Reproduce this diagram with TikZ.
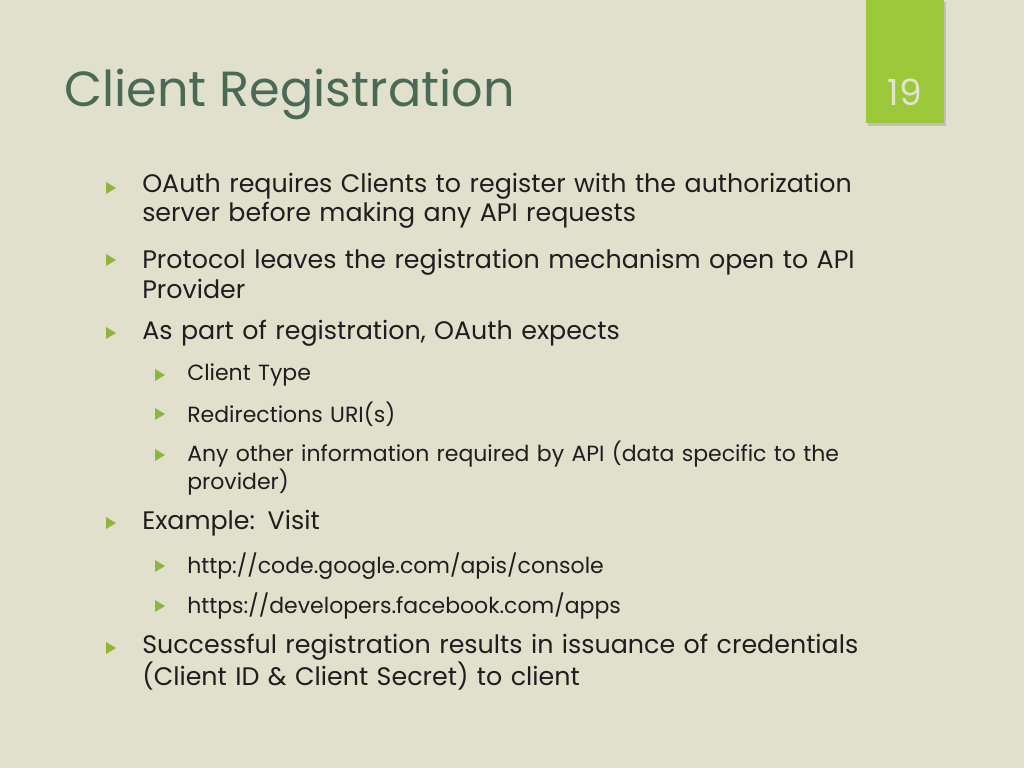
\documentclass[tikz,border=0pt]{standalone}
\usepackage{fontspec}
\setmainfont{Poppins}
\definecolor{bg}{HTML}{E1E0CC}
\definecolor{ttl}{HTML}{4B6A55}
\definecolor{tab}{HTML}{9CC83C}
\definecolor{bul}{HTML}{8DB63C}
\definecolor{txt}{HTML}{1E1E1E}
\tikzset{
 lone/.style={anchor=west,inner sep=0,text=txt,font=\fontsize{19}{22}\selectfont,text width=730pt,align=left},
 ltwo/.style={anchor=west,inner sep=0,text=txt,font=\fontsize{16.5}{19.5}\selectfont,text width=700pt,align=left},
 tri/.style={fill=bul,draw=none},
}
\newcommand{\btri}[2]{\fill[tri] (#1,#2+6) -- (#1+10,#2) -- (#1,#2-6) -- cycle;}
\begin{document}
\begin{tikzpicture}[x=0.75pt,y=-0.75pt]
\useasboundingbox (0,0) rectangle (1024,768);
\fill[bg] (0,0) rectangle (1024,768);
\fill[black!25] (868,2) rectangle (946,126);
\fill[tab] (866,0) rectangle (944,123);
\node[text=bg!90!white,font=\fontsize{27}{30}\selectfont] (num) at (905,92) {19};
\node[anchor=west,inner sep=0,text=ttl,font=\fontsize{37}{44}\selectfont] (title) at (64,94) {Client Registration};
% level 1
\btri{106}{188}\node[lone] (a1) at (142,201) {OAuth requires Clients to register with the authorization\\ server before making any API requests};
\btri{106}{260}\node[lone] (a2) at (142,274) {Protocol leaves the registration mechanism open to API\\ Provider};
\btri{106}{333}\node[lone] (a3) at (142,333) {As part of registration, OAuth expects};
\btri{155}{375}\node[ltwo] (b1) at (187,375) {Client Type};
\btri{155}{414}\node[ltwo] (b2) at (187,414) {Redirections URI(s)};
\btri{155}{455}\node[ltwo] (b3) at (187,468) {Any other information required by API (data specific to the\\ provider)};
\btri{106}{523}\node[lone] (a4) at (142,523) {Example: Visit};
\btri{155}{566}\node[ltwo] (b4) at (187,566) {http://code.google.com/apis/console};
\btri{155}{606}\node[ltwo] (b5) at (187,606) {https://developers.facebook.com/apps};
\btri{106}{648}\node[lone] (a5) at (142,662) {Successful registration results in issuance of credentials\\ (Client ID \& Client Secret) to client};
\end{tikzpicture}
\end{document}
